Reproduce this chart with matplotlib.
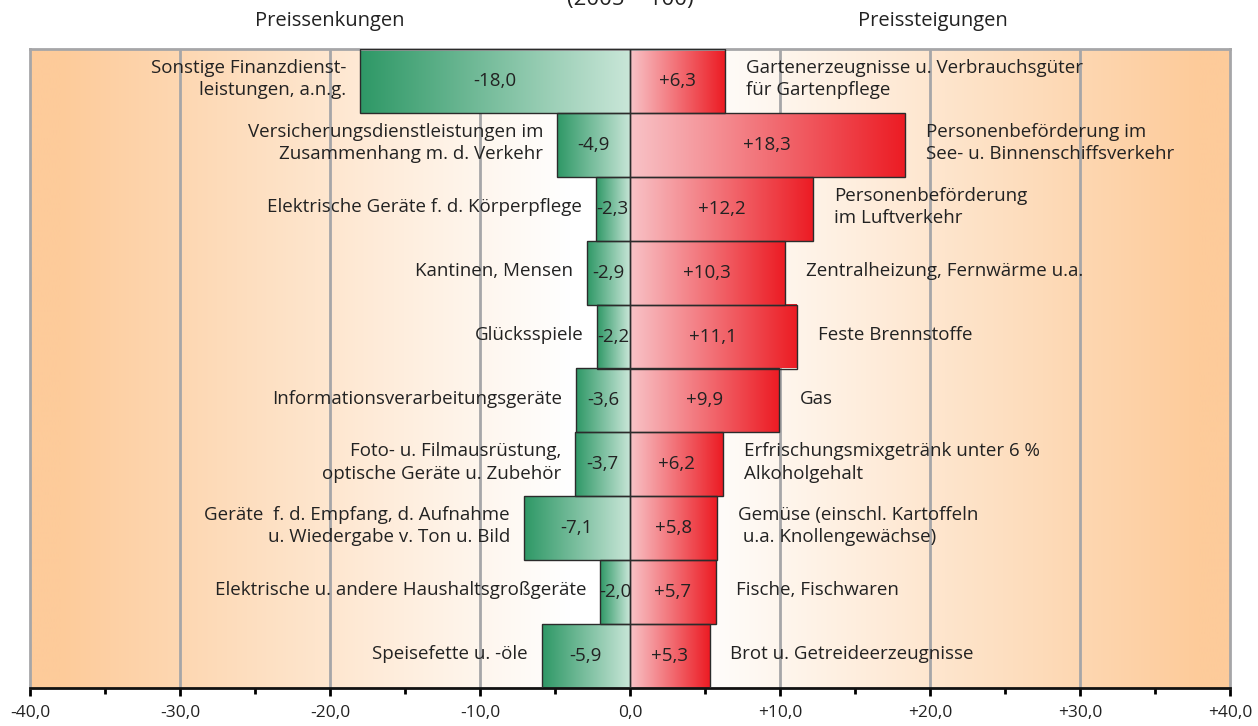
import numpy as np
import matplotlib
matplotlib.use("Agg")
import matplotlib.pyplot as plt
from matplotlib.colors import LinearSegmentedColormap

plt.rcParams['font.family'] = ['Open Sans', 'DejaVu Sans']

# Daten (Veränderung gegenüber Vorjahr, 2005 = 100)
links_labels = ["Sonstige Finanzdienst-\nleistungen, a.n.g.",
                "Versicherungsdienstleistungen im\nZusammenhang m. d. Verkehr",
                "Elektrische Geräte f. d. Körperpflege",
                "Kantinen, Mensen",
                "Glücksspiele",
                "Informationsverarbeitungsgeräte",
                "Foto- u. Filmausrüstung,\noptische Geräte u. Zubehör",
                "Geräte  f. d. Empfang, d. Aufnahme\nu. Wiedergabe v. Ton u. Bild",
                "Elektrische u. andere Haushaltsgroßgeräte",
                "Speisefette u. -öle"]
senkung = [-18.0, -4.9, -2.3, -2.9, -2.2, -3.6, -3.7, -7.1, -2.0, -5.9]

rechts_labels = ["Gartenerzeugnisse u. Verbrauchsgüter\nfür Gartenpflege",
                 "Personenbeförderung im\nSee- u. Binnenschiffsverkehr",
                 "Personenbeförderung\nim Luftverkehr",
                 "Zentralheizung, Fernwärme u.a.",
                 "Feste Brennstoffe",
                 "Gas",
                 "Erfrischungsmixgetränk unter 6 %\nAlkoholgehalt",
                 "Gemüse (einschl. Kartoffeln\n u.a. Knollengewächse)",
                 "Fische, Fischwaren",
                 "Brot u. Getreideerzeugnisse"]
steigung = [6.3, 18.3, 12.2, 10.3, 11.1, 9.9, 6.2, 5.8, 5.7, 5.3]

xticks = np.arange(-40, 41, 10)
xticklabels = ["-40,0", "-30,0", "-20,0", "-10,0", "0,0", "+10,0", "+20,0", "+30,0", "+40,0"]

fmt = lambda v: ("+" if v > 0 else "") + ("%.1f" % v).replace(".", ",")

fig = plt.figure(figsize=(12.58, 7.26), dpi=100)
ax = fig.add_axes([30/1258, 1-688/726, 1200/1258, 639/726])

n = len(senkung)
y = np.arange(n)

# Hintergrund: orange am Rand, weiß in der Mitte
xs = np.linspace(-40, 40, 801)
t = np.clip((np.abs(xs) - 4) / 34, 0, 1)
orange = np.array([253, 203, 154]) / 255
bg = (1 - t)[:, None] * np.array([1, 1, 1]) + t[:, None] * orange
ax.imshow(bg[None, :, :], extent=[-40, 40, n - 0.5, -0.5], aspect='auto', zorder=0, interpolation='bilinear')

for g in xticks[1:-1]:
    ax.axvline(g, color='#a6a6a8', lw=2, zorder=1)

gruen = LinearSegmentedColormap.from_list("gr", ["#2e9866", "#c9e6d8"])
rot = LinearSegmentedColormap.from_list("rt", ["#f8c3c7", "#ec1c24"])
grad = np.linspace(0, 1, 256)[None, :]

for i in range(n):
    ax.imshow(grad, extent=[senkung[i], 0, i + 0.5, i - 0.5], cmap=gruen, aspect='auto', zorder=2)
    ax.imshow(grad, extent=[0, steigung[i], i + 0.5, i - 0.5], cmap=rot, aspect='auto', zorder=2)

ax.barh(y, senkung, height=1.0, fill=False, edgecolor='#2b2b2b', lw=1, zorder=3)
ax.barh(y, steigung, height=1.0, fill=False, edgecolor='#2b2b2b', lw=1, zorder=3)

tc = '#222222'
fs = 13.5
for i in range(n):
    ax.text(senkung[i] / 2, i, fmt(senkung[i]), ha='center', va='center', fontsize=fs, color=tc, zorder=4)
    ax.text(steigung[i] / 2, i, fmt(steigung[i]), ha='center', va='center', fontsize=fs, color=tc, zorder=4)
    ax.text(senkung[i] - 0.9, i - 0.03, links_labels[i], ha='right', va='center', fontsize=fs,
            color=tc, linespacing=1.3, zorder=4)
    ax.text(steigung[i] + 1.4, i - 0.03, rechts_labels[i], ha='left', va='center', fontsize=fs,
            color=tc, linespacing=1.3, zorder=4)

ax.set_xlim(-40, 40)
ax.set_ylim(n - 0.5, -0.5)
ax.set_yticks([])
ax.set_xticks(xticks)
ax.set_xticklabels(xticklabels, fontsize=12.5, color=tc)
ax.set_xticks(np.arange(-35, 40, 10), minor=True)
ax.tick_params(axis='x', which='major', length=6, width=2, direction='out', pad=6)
ax.tick_params(axis='x', which='minor', length=4, width=2, direction='out')

for s in ['top', 'left', 'right']:
    ax.spines[s].set_color('#a6a6a8')
    ax.spines[s].set_linewidth(2)
ax.spines['bottom'].set_color('#111111')
ax.spines['bottom'].set_linewidth(2)

fig.text(330/1258, 1-21/726, "Preissenkungen", ha='center', va='center', fontsize=14.5, color=tc)
fig.text(933/1258, 1-21/726, "Preissteigungen", ha='center', va='center', fontsize=14.5, color=tc)
fig.text(630/1258, 1+1/726, "(2005 = 100)", ha='center', va='center', fontsize=16, color=tc)

fig.savefig("out.png", dpi=100)
